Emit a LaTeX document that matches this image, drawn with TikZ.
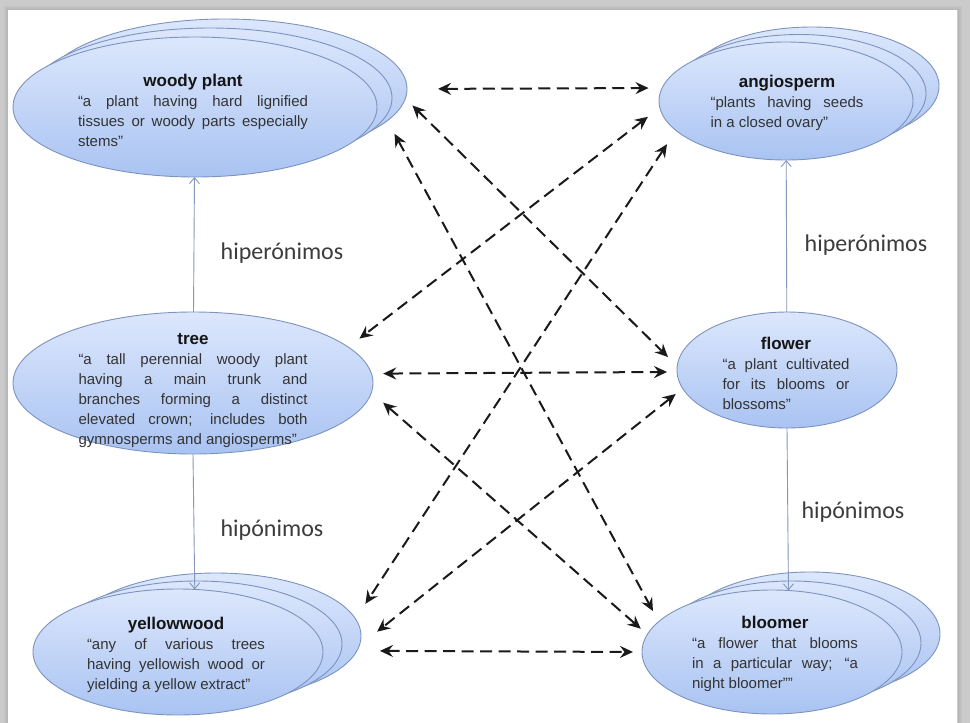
\documentclass[tikz,border=0pt]{standalone}
\usepackage{fontspec}
\setmainfont{Liberation Sans}
\newfontfamily\labelfont{Carlito}
\usetikzlibrary{shapes.geometric,arrows.meta}

\definecolor{framegray}{HTML}{CBCBCB}
\definecolor{elltop}{HTML}{DCE7FC}
\definecolor{ellbot}{HTML}{A9C3F2}
\definecolor{ellline}{HTML}{7D93BE}
\definecolor{hypline}{HTML}{8497BC}
\definecolor{relcol}{HTML}{1A1A1A}
\definecolor{titlecol}{HTML}{151515}
\definecolor{bodycol}{HTML}{333333}
\definecolor{labcol}{HTML}{3C3C3C}

\newcommand{\ttl}[1]{{\centering\fontsize{17}{21}\selectfont\bfseries\color{titlecol}#1\par}}

\tikzset{
  concept/.style={ellipse, inner sep=0pt, outer sep=0pt, draw=ellline, line width=0.9pt,
    top color=elltop, bottom color=ellbot},
  desc/.style={inner sep=0pt, font=\fontsize{15}{20}\selectfont, text=bodycol},
  rel/.style={draw=relcol, line width=2pt, dash pattern=on 12pt off 6.5pt,
    {Stealth[length=13pt,width=12pt,inset=4.5pt]}-{Stealth[length=13pt,width=12pt,inset=4.5pt]}},
  hyp/.style={draw=hypline, line width=0.9pt, -{Straight Barb[length=6pt,width=10pt]}},
  rellabel/.style={font=\labelfont\fontsize{24}{28}\selectfont, text=labcol, inner sep=0pt}
}

\begin{document}
\begin{tikzpicture}[x=1pt,y=-1pt]
\useasboundingbox (0,0) rectangle (970,723);

% framed white sheet with a soft edge shadow
\fill[framegray] (0,0) rectangle (970,723);
\foreach \i/\o in {1/0.10,2/0.07,3/0.05,4/0.03}
  \draw[black, opacity=\o, line width=1pt] (8-\i,10-\i) rectangle (957+\i,723+\i);
\fill[white] (8,10) rectangle (957,723);

% ---------- concepts ----------
% woody plant (stack of three)
\node[concept, minimum width=364pt, minimum height=140pt] (woodyb2) at (225,89) {};
\node[concept, minimum width=364pt, minimum height=140pt] (woodyb1) at (210,98) {};
\node[concept, minimum width=364pt, minimum height=140pt] (woody) at (195,107) {};
\node[desc] (woodytxt) at (193,110) {\parbox{230pt}{\ttl{woody plant}“a plant having hard lignified\linebreak tissues or woody parts especially\linebreak stems”}};

% angiosperm (stack of three)
\node[concept, minimum width=254pt, minimum height=118pt] (angiob2) at (812,86) {};
\node[concept, minimum width=254pt, minimum height=118pt] (angiob1) at (799,93.5) {};
\node[concept, minimum width=254pt, minimum height=118pt] (angio) at (786,101) {};
\node[desc] (angiotxt) at (787,103) {\parbox{153pt}{\ttl{angiosperm}“plants having seeds\linebreak in a closed ovary”}};

% tree
\node[concept, minimum width=360pt, minimum height=142pt] (tree) at (193,383) {};
\node[desc] (treetxt) at (193,391) {\parbox{229pt}{\ttl{tree}“a tall perennial woody plant\linebreak having a main trunk and\linebreak branches forming a distinct\linebreak elevated crown; includes both\linebreak gymnosperms and angiosperms”}};

% flower
\node[concept, minimum width=220pt, minimum height=116pt] (flower) at (787,370) {};
\node[desc] (flowertxt) at (786,373) {\parbox{127pt}{\ttl{flower}“a plant cultivated\linebreak for its blooms or\linebreak blossoms”}};

% yellowwood (stack of three)
\node[concept, minimum width=290pt, minimum height=126pt] (yellowwoodb2) at (216,636) {};
\node[concept, minimum width=290pt, minimum height=126pt] (yellowwoodb1) at (197,644) {};
\node[concept, minimum width=290pt, minimum height=126pt] (yellowwood) at (178,652) {};
\node[desc] (yellowwoodtxt) at (176,655) {\parbox{178pt}{\ttl{yellowwood}“any of various trees\linebreak having yellowish wood or\linebreak yielding a yellow extract”}};

% bloomer (stack of three)
\node[concept, minimum width=260pt, minimum height=124pt] (bloomerb2) at (810,634) {};
\node[concept, minimum width=260pt, minimum height=124pt] (bloomerb1) at (791,643) {};
\node[concept, minimum width=260pt, minimum height=124pt] (bloomer) at (772,652) {};
\node[desc] (bloomertxt) at (775,654) {\parbox{166pt}{\ttl{bloomer}“a flower that blooms\linebreak in a particular way; “a\linebreak night bloomer””}};

% ---------- hypernym / hyponym links ----------
\draw[hyp] (tree) -- (woody);
\draw[hyp] (tree.south) -- (yellowwood.75);
\draw[hyp] (flower) -- (angio);
\draw[hyp] (flower.south) -- (bloomer.75.4);

\node[rellabel] (hyperL) at (282,253) {hiperónimos};
\node[rellabel] (hypoL) at (272,530) {hipónimos};
\node[rellabel] (hyperR) at (866,245) {hiperónimos};
\node[rellabel] (hypoR) at (853,512) {hipónimos};

% ---------- cross-language relations ----------
\draw[rel, shorten <=31pt, shorten >=13.6pt] (woodyb2.east) -- (angio.174.5);
\draw[rel, shorten <=10pt, shorten >=13pt] (woodyb2.-3.8) -- (flower.178);
\draw[rel, shorten <=15pt, shorten >=12pt] (woodyb2.-11.5) -- (bloomer.165.5);
\draw[rel, shorten <=15pt, shorten >=14pt] (angio.183.6) -- (tree.13.8);
\draw[rel, shorten <=11.8pt, shorten >=10pt] (tree.3.2) -- (flower.181.6);
\draw[rel, shorten <=15.6pt, shorten >=8.7pt] (tree.-3.1) -- (bloomer.172.6);
\draw[rel, shorten <=16.4pt, shorten >=18pt] (angio.195.5) -- (yellowwoodb2.7.4);
\draw[rel, shorten <=9pt, shorten >=23pt] (flower.190.5) -- (yellowwoodb2.-4.1);
\draw[rel, shorten <=23pt, shorten >=9pt] (yellowwoodb2.-6.5) -- (bloomer.west);
\end{tikzpicture}
\end{document}
